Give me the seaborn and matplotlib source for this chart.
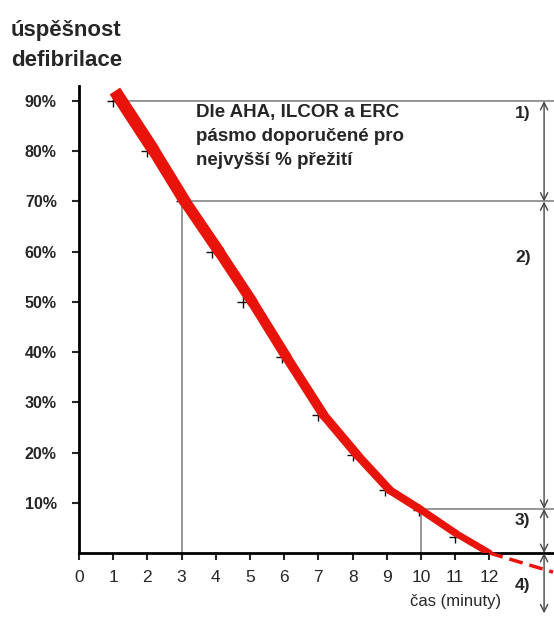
import matplotlib
matplotlib.use('Agg')
import matplotlib.pyplot as plt
import seaborn as sns
import pandas as pd

# Data
minutes = [1, 2, 3, 3.9, 4.8, 5.95, 7, 8, 8.95, 9.95, 11]
success_marks = [90, 80, 70, 60, 50, 39, 27.5, 19.5, 12.5, 8.6, 3.2]

curve_x = [1.05, 2.2, 3.1, 4.1, 5.07, 6.07, 7.15, 8.14, 9.09, 10.0, 11.0, 12.0]
curve_y = [92, 80, 70, 60, 50, 39, 27.5, 19.5, 12.5, 8.6, 4.0, 0]
extrap_x = [12.0, 13.86]
extrap_y = [0, -3.8]

x_ticks = list(range(0, 13))
y_ticks = [10, 20, 30, 40, 50, 60, 70, 80, 90]
band_levels = [90, 70, 8.8, 0, -12]
band_labels = ['1)', '2)', '3)', '4)']
note = 'Dle AHA, ILCOR a ERC\npásmo doporučené pro\nnejvyšší % přežití'

sns.set_style('white')
plt.rcParams['font.family'] = ['Liberation Sans', 'DejaVu Sans']

fig = plt.figure(figsize=(5.54, 6.21), dpi=100)
ax = fig.add_axes([79 / 554, 68 / 621, 475 / 554, 467 / 621])
xmax = 13.89
ax.set_xlim(0, xmax)
ax.set_ylim(0, 93)

gray = '#8f8f8f'
# reference guide lines
ax.plot([1, xmax], [90, 90], color=gray, lw=1.3, clip_on=False)
ax.plot([3, xmax], [70, 70], color=gray, lw=1.3, clip_on=False)
ax.plot([3, 3], [0, 70], color=gray, lw=1.3)
ax.plot([10, xmax], [8.8, 8.8], color=gray, lw=1.3, clip_on=False)
ax.plot([10, 10], [0, 8.8], color=gray, lw=1.3)

df = pd.DataFrame({'min': minutes, 'pct': success_marks})
sns.scatterplot(data=df, x='min', y='pct', marker='+', color='#111111', s=70,
                linewidth=1.0, ax=ax, zorder=2, clip_on=False)

# thick red curve, tapering toward the bottom
n = len(curve_x) - 1
for i in range(n):
    w = 9.0 - 4.5 * i / n
    cap = 'butt' if i == 0 else 'round'
    ax.plot(curve_x[i:i + 2], curve_y[i:i + 2], color='#e8140c', lw=w,
            solid_capstyle=cap, zorder=3)
ax.plot(extrap_x, extrap_y, color='#e8140c', lw=2.5, ls=(0, (4, 2)),
        clip_on=False, zorder=3)

# band arrows on the right
ax_x = 13.6
for top, bot in zip(band_levels[:-1], band_levels[1:]):
    ax.annotate('', xy=(ax_x, top), xytext=(ax_x, bot),
                arrowprops=dict(arrowstyle='<->', color='#444444', lw=1.0,
                                shrinkA=0, shrinkB=0, mutation_scale=13),
                annotation_clip=False)
label_y = [87.5, 58.8, 6.4, -6.4]
for lab, yy in zip(band_labels, label_y):
    ax.text(12.98, yy, lab, ha='center', va='center', fontsize=12.5,
            fontweight='bold', clip_on=False)

ax.text(3.42, 89.4, note, ha='left', va='top', fontsize=13.5,
        fontweight='bold', linespacing=1.55)

ax.set_xticks(x_ticks)
ax.set_xticklabels([str(v) for v in x_ticks], fontsize=12.5)
ax.set_yticks(y_ticks)
ax.set_yticklabels([f'{v}%' for v in y_ticks], fontsize=11.5,
                   fontweight='bold')
ax.tick_params(axis='x', direction='out', length=5, width=1.5, pad=7,
               bottom=True)
ax.tick_params(axis='y', direction='out', length=5, width=1.5, pad=11,
               left=True)
ax.set_xlabel('')
ax.set_ylabel('')

for side in ['top', 'right']:
    ax.spines[side].set_visible(False)
for side in ['left', 'bottom']:
    ax.spines[side].set_color('black')
    ax.spines[side].set_linewidth(2.0)

ax.text(11.0, -9.6, 'čas (minuty)', ha='center', va='center', fontsize=12,
        clip_on=False)
fig.text(11 / 554, 1 - 20 / 621, 'úspěšnost\ndefibrilace', ha='left',
         va='top', fontsize=16, fontweight='bold', linespacing=1.55)

fig.savefig('out.png', dpi=100)
